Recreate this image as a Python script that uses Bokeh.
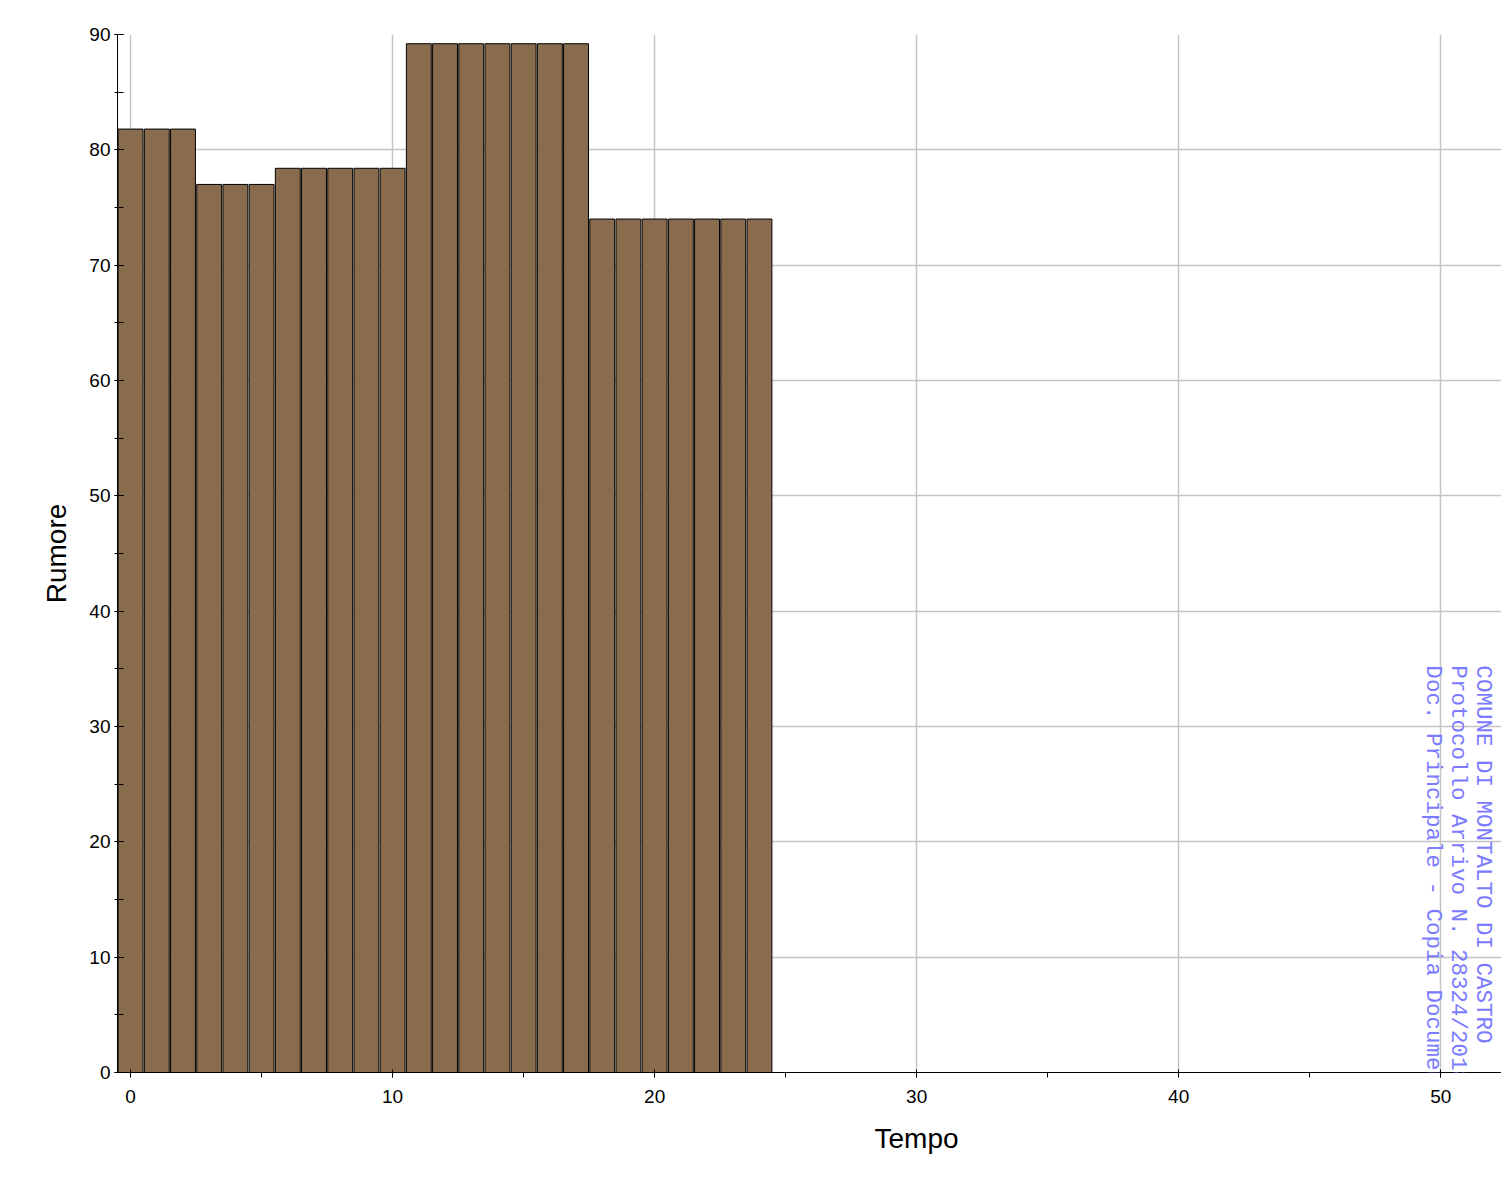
import math
from bokeh.plotting import figure
from bokeh.models import SingleIntervalTicker, Label, Range1d, Title
from bokeh.embed import file_html
from bokeh.resources import INLINE

# Data
tempo = [0, 1, 2, 3, 4, 5, 6, 7, 8, 9, 10, 11, 12, 13, 14, 15, 16, 17, 18, 19, 20, 21, 22, 23, 24]
rumore = [81.8, 81.8, 81.8, 77.0, 77.0, 77.0, 78.4, 78.4, 78.4, 78.4, 78.4,
          89.2, 89.2, 89.2, 89.2, 89.2, 89.2, 89.2,
          74.0, 74.0, 74.0, 74.0, 74.0, 74.0, 74.0]

watermark_lines = [
    "COMUNE DI MONTALTO DI CASTRO",
    "Protocollo Arrivo N. 28324/2018 del 1",
    "Doc. Principale - Copia Documento",
]

W, H = 1501, 1183
p = figure(width=W, height=H, output_backend="svg", toolbar_location=None,
           x_range=Range1d(-0.5, 52.32), y_range=Range1d(0, 90),
           min_border_left=117, min_border_top=34, min_border_bottom=111,
           min_border_right=0)
p.outline_line_color = None
p.background_fill_color = "white"
p.border_fill_color = "white"

p.vbar(x=tempo, top=rumore, bottom=0, width=0.95,
       fill_color="#896C4E", line_color="black", line_width=1)

for ax in (p.xaxis[0], p.yaxis[0]):
    ax.ticker = SingleIntervalTicker(interval=10, num_minor_ticks=2)
    ax.axis_line_color = "black"
    ax.major_tick_line_color = "black"
    ax.minor_tick_line_color = "black"
    ax.major_label_text_font = "Liberation Sans"
    ax.major_label_text_font_size = "19px"
    ax.major_label_text_color = "black"
    ax.axis_label_text_font = "Liberation Sans"
    ax.axis_label_text_font_size = "28px"
    ax.axis_label_text_font_style = "normal"
    ax.axis_label_text_color = "black"

p.yaxis.axis_label = "Rumore"
p.xaxis.major_tick_in = 3
p.xaxis.major_tick_out = 5
p.xaxis.minor_tick_in = 0
p.xaxis.minor_tick_out = 5
p.xaxis.major_label_standoff = 12
p.yaxis.major_tick_in = 6
p.yaxis.major_tick_out = 3
p.yaxis.minor_tick_in = 6
p.yaxis.minor_tick_out = 3
p.yaxis.major_label_standoff = 4
p.yaxis.axis_label_standoff = 14

# x-axis title, centred under x = 30 as in the reference (its frame is wider than the page)
p.add_layout(Title(text="Tempo", align="left", offset=757, standoff=30,
                   text_font="Liberation Sans", text_font_size="28px",
                   text_font_style="normal", text_color="black"), "below")

p.xgrid.grid_line_color = "#c4c4c4"
p.ygrid.grid_line_color = "#c4c4c4"
p.xgrid.grid_line_width = 1.5
p.ygrid.grid_line_width = 1.5

wm_x = [51.6, 50.65, 49.7]
for txt, xx in zip(watermark_lines, wm_x):
    p.add_layout(Label(x=xx, y=35.3, text=txt, angle=-math.pi / 2,
                       text_font="Liberation Mono", text_font_size="22.5px",
                       text_color="#7b7bff", text_align="left",
                       text_baseline="middle"))

open("out.html", "w").write(file_html(p, INLINE))
